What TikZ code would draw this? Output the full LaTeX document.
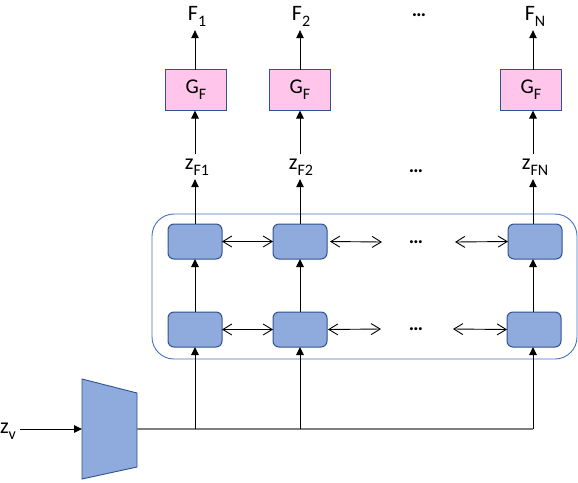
\documentclass[tikz,border=0pt]{standalone}
\usepackage{fontspec}
\setmainfont{Carlito}
\usetikzlibrary{arrows.meta}
\definecolor{lstmfill}{HTML}{8FAADC}
\definecolor{lstmdraw}{HTML}{2F528F}
\definecolor{pinkfill}{HTML}{FFC5EA}
\definecolor{groupdraw}{HTML}{4472C4}
\definecolor{busgray}{HTML}{7F7F7F}
\newcommand{\lbl}[2]{#1\raisebox{-0.28em}{\fontsize{16}{16}\selectfont #2}}
\tikzset{
  lstm/.style={draw=lstmdraw, fill=lstmfill, rounded corners=6pt, minimum width=54pt, minimum height=35pt, line width=1pt, inner sep=0pt, outer sep=0pt},
  gbox/.style={draw=lstmdraw, fill=pinkfill, minimum width=61pt, minimum height=41pt, line width=1pt, inner sep=0pt, outer sep=0pt, font=\fontsize{21}{24}\selectfont},
  lab/.style={font=\fontsize{22}{24}\selectfont, inner sep=0pt, outer sep=4pt},
  dots/.style={font=\fontsize{20}{24}\selectfont\bfseries, inner sep=0pt},
  arr/.style={-{Triangle[length=8pt,width=7.5pt]}, line width=1pt},
  biarr/.style={{Straight Barb[length=9pt,width=11pt]}-{Straight Barb[length=9pt,width=11pt]}, line width=0.9pt},
  group/.style={draw=groupdraw, line width=0.9pt, rounded corners=22pt},
  enc/.style={draw=lstmdraw, fill=lstmfill, line width=0.9pt}
}
\begin{document}
\begin{tikzpicture}[x=1pt,y=-1pt]
\useasboundingbox (0,0) rectangle (578,482);
% group frame
\draw[group] (152,214) rectangle (577,359);
% encoder
\draw[enc] (82,379) -- (137,393) -- (137,467) -- (82,479) -- cycle;
\coordinate (encin) at (82,429);
\coordinate (encout) at (137,429);
\coordinate (b1) at (195,429);
\coordinate (b2) at (300,429);
\coordinate (b3) at (533,429);
% labels
\node[lab, anchor=base] (f1) at (197,20) {\lbl{F}{1}};
\node[lab, anchor=base] (f2) at (301,20) {\lbl{F}{2}};
\node[lab, anchor=base] (fn) at (535,20) {\lbl{F}{N}};
\node[dots] (dtop) at (419,15) {…};
% G boxes
\node[gbox] (g1) at (196,90) {\lbl{G}{F}};
\node[gbox] (g2) at (300,90) {\lbl{G}{F}};
\node[gbox] (g3) at (531,90) {\lbl{G}{F}};
% z labels
\node[lab, anchor=base] (z1) at (197,169) {\lbl{z}{F1}};
\node[lab, anchor=base] (z2) at (301,169) {\lbl{z}{F2}};
\node[lab, anchor=base] (zn) at (535,169) {\lbl{z}{FN}};
\node[dots] (dz) at (416,171) {…};
% LSTM cells
\node[lstm] (t1) at (195,241.5) {};
\node[lstm] (t2) at (300,241.5) {};
\node[lstm] (t3) at (535,241.5) {};
\node[lstm] (u1) at (195,329.5) {};
\node[lstm] (u2) at (300,329.5) {};
\node[lstm] (u3) at (534,329.5) {};
\node[dots] (dt) at (416,242) {…};
\node[dots] (du) at (416,329) {…};
\coordinate (ta) at (382,242);
\coordinate (tb) at (455,242);
\coordinate (ua) at (381,329);
\coordinate (ub) at (453,329);
% zv
\node[lab, anchor=base west, outer sep=0pt] (zv) at (0,433) {\lbl{z}{v}};
% connectors
\draw[arr, shorten <=4pt] (zv.east |- encin) -- (encin);
\draw[line width=1.2pt, busgray] (encout) -- (b3);
\draw[arr] (b1) -- (u1.south);
\draw[arr] (b2) -- (u2.south);
\draw[arr] (b3) -- (b3 |- u3.south);
\draw[arr] (u1.north) -- (t1.south);
\draw[arr] (u2.north) -- (t2.south);
\draw[arr] (u3.north -| b3) -- (t3.south -| b3);
\draw[arr] (t1.north) -- (t1.north |- z1.south);
\draw[arr] (t2.north) -- (t2.north |- z2.south);
\draw[arr] (t3.north -| b3) -- (b3 |- zn.south);
\draw[arr] (z1.north -| t1) -- (t1 |- g1.south);
\draw[arr] (z2.north -| t2) -- (t2 |- g2.south);
\draw[arr] (zn.north -| b3) -- (b3 |- g3.south);
\draw[arr] (g1.north -| t1) -- (t1 |- f1.south);
\draw[arr] (g2.north -| t2) -- (t2 |- f2.south);
\draw[arr] (g3.north -| b3) -- (b3 |- fn.south);
\draw[biarr] (t1.east) -- (t2.west);
\draw[biarr] (t2.east) ++(3,0) -- (ta);
\draw[biarr] (tb) -- (t3.west);
\draw[biarr] (u1.east) -- (u2.west);
\draw[biarr] (u2.east) ++(1,0) -- (ua);
\draw[biarr] (ub) -- (u3.west);
\end{tikzpicture}
\end{document}
